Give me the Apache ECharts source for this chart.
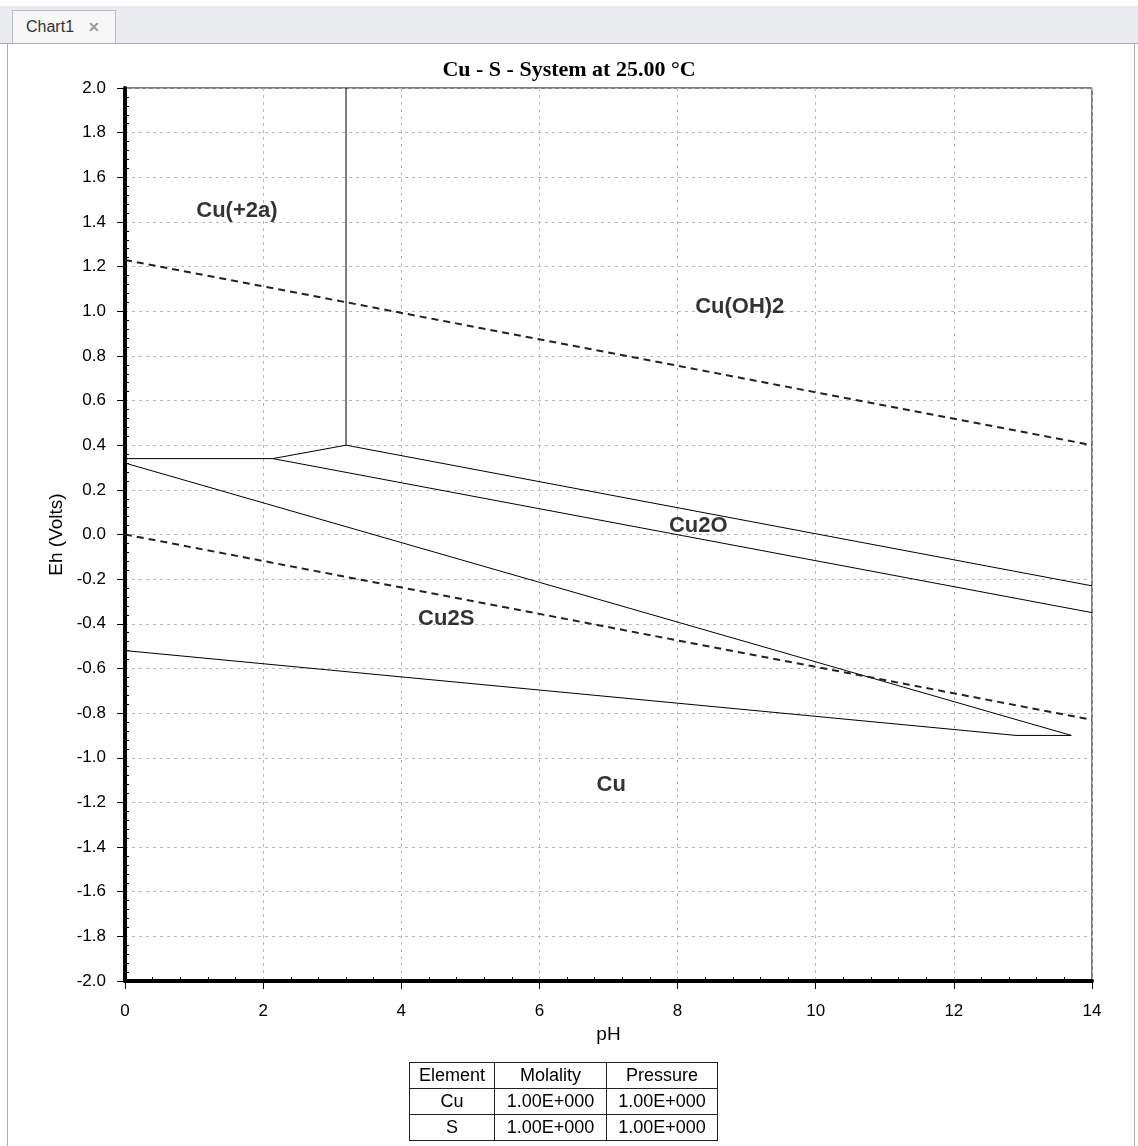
<!DOCTYPE html>
<html>
<head>
<meta charset="utf-8">
<script src="https://cdn.jsdelivr.net/npm/echarts@6/dist/echarts.min.js"></script>
<style>
  body{margin:0;background:#fff;font-family:"Liberation Sans",Arial,sans-serif}
  #band{position:absolute;left:0;top:6px;width:1138px;height:37px;background:#e9ebef;border-bottom:1px solid #a9abb0}
  #tab{position:absolute;left:12px;top:10px;width:104px;height:33px;background:#f7f7f7;border:1px solid #b9bbc0;border-bottom:none;font-size:16px;color:#333;box-sizing:border-box;padding:7px 0 0 13px}
  #tab span{color:#999;font-weight:bold;margin-left:14px;font-size:14px}
  #frame{position:absolute;left:7px;top:44px;width:1128px;height:1102px;border-left:1px solid #b0b0b0;border-right:1px solid #b0b0b0;box-sizing:border-box}
  #main{position:absolute;left:0;top:0;width:1138px;height:1146px}
  #info{position:absolute;left:409px;top:1062px;border-collapse:collapse;font-size:18px}
  #info td{border:1px solid #222;height:25px;padding:0;text-align:center;line-height:25px}
</style>
</head>
<body>
<div id="band"></div>
<div id="tab">Chart1<span>✕</span></div>
<div id="frame"></div>
<div id="main"></div>
<table id="info">
  <tr><td style="width:84px">Element</td><td style="width:111px">Molality</td><td style="width:110px">Pressure</td></tr>
  <tr><td>Cu</td><td>1.00E+000</td><td>1.00E+000</td></tr>
  <tr><td>S</td><td>1.00E+000</td><td>1.00E+000</td></tr>
</table>
<script type="text/javascript">
  // phase boundaries, [pH, Eh]
  var cuOH2Line = [[3.2, 2.0], [3.2, 0.40], [14, -0.23]];
  var cu2aLine = [[0, 0.34], [2.14, 0.34], [3.2, 0.40]];
  var cu2oLine = [[2.14, 0.34], [14, -0.35]];
  var cu2sUpper = [[0, 0.32], [13.7, -0.90]];
  var cu2sLower = [[0, -0.52], [12.9, -0.90], [13.7, -0.90]];
  // water stability limits (dashed)
  var waterUpper = [[0, 1.23], [14, 0.40]];
  var waterLower = [[0, 0.0], [14, -0.83]];

  // field labels
  var regionNames = ['Cu(+2a)', 'Cu(OH)2', 'Cu2O', 'Cu2S', 'Cu'];
  var regionPH = [1.62, 8.9, 8.3, 4.65, 7.04];
  var regionEh = [1.45, 1.02, 0.04, -0.38, -1.12];

  var font = '"Liberation Sans", Arial, sans-serif';

  function solid(d) {
    return {type: 'line', data: d, symbol: 'none', silent: true,
      lineStyle: {color: '#000', width: 1}};
  }
  function dashed(d) {
    return {type: 'line', data: d, symbol: 'none', silent: true,
      lineStyle: {color: '#222', width: 2, type: [7, 5]}};
  }

  var labels = [];
  for (var i = 0; i < regionNames.length; i++) {
    labels.push({name: regionNames[i], value: [regionPH[i], regionEh[i]]});
  }

  var split = {show: true, lineStyle: {color: '#b8b8b8', width: 1, type: [3, 4]}};

  var myChart = echarts.init(document.getElementById('main'));
  var option = {
    animation: false,
    title: {
      text: 'Cu - S - System at 25.00 °C',
      left: 'center', top: 54,
      textStyle: {fontFamily: '"Liberation Serif", "Times New Roman", serif', fontSize: 22, fontWeight: 'bold', color: '#000'}
    },
    grid: {left: 125, top: 88, width: 967, height: 893, show: true, borderColor: '#000', borderWidth: 1},
    xAxis: [{
      type: 'value', min: 0, max: 14, interval: 2, position: 'bottom',
      name: 'pH', nameLocation: 'middle', nameGap: 36,
      nameTextStyle: {fontFamily: font, fontSize: 19, color: '#000'},
      axisLine: {onZero: false, lineStyle: {color: '#000', width: 4}},
      axisTick: {length: 8, lineStyle: {color: '#000'}},
      axisLabel: {margin: 22, fontFamily: font, fontSize: 17, color: '#000'},
      splitLine: split
    }, {
      type: 'value', min: 0, max: 14, interval: 2, position: 'bottom',
      axisLine: {show: false, onZero: false}, axisTick: {show: false, inside: true},
      axisLabel: {show: false}, splitLine: {show: false},
      minorTick: {show: true, splitNumber: 5, length: 4, lineStyle: {color: '#000'}}
    }],
    yAxis: [{
      type: 'value', min: -2, max: 2, interval: 0.2, position: 'left',
      name: 'Eh (Volts)', nameLocation: 'middle', nameGap: 58,
      nameTextStyle: {fontFamily: font, fontSize: 19, color: '#000'},
      axisLine: {onZero: false, lineStyle: {color: '#000', width: 4}},
      axisTick: {length: 8, lineStyle: {color: '#000'}},
      axisLabel: {margin: 19, fontFamily: font, fontSize: 17, color: '#000',
        formatter: function (v) { return v.toFixed(1); }},
      splitLine: split
    }, {
      type: 'value', min: -2, max: 2, interval: 0.2, position: 'left',
      axisLine: {show: false, onZero: false}, axisTick: {show: false, inside: true},
      axisLabel: {show: false}, splitLine: {show: false},
      minorTick: {show: true, splitNumber: 5, length: 4, lineStyle: {color: '#000'}}
    }],
    series: [
      solid(cuOH2Line), solid(cu2aLine), solid(cu2oLine), solid(cu2sUpper), solid(cu2sLower),
      dashed(waterUpper), dashed(waterLower),
      {
        type: 'scatter', data: labels, symbolSize: 0, silent: true,
        label: {show: true, position: 'inside', formatter: '{b}',
          fontFamily: font, fontSize: 22, fontWeight: 'bold', color: '#000'}
      }
    ]
  };
  myChart.setOption(option);
</script>
</body>
</html>
